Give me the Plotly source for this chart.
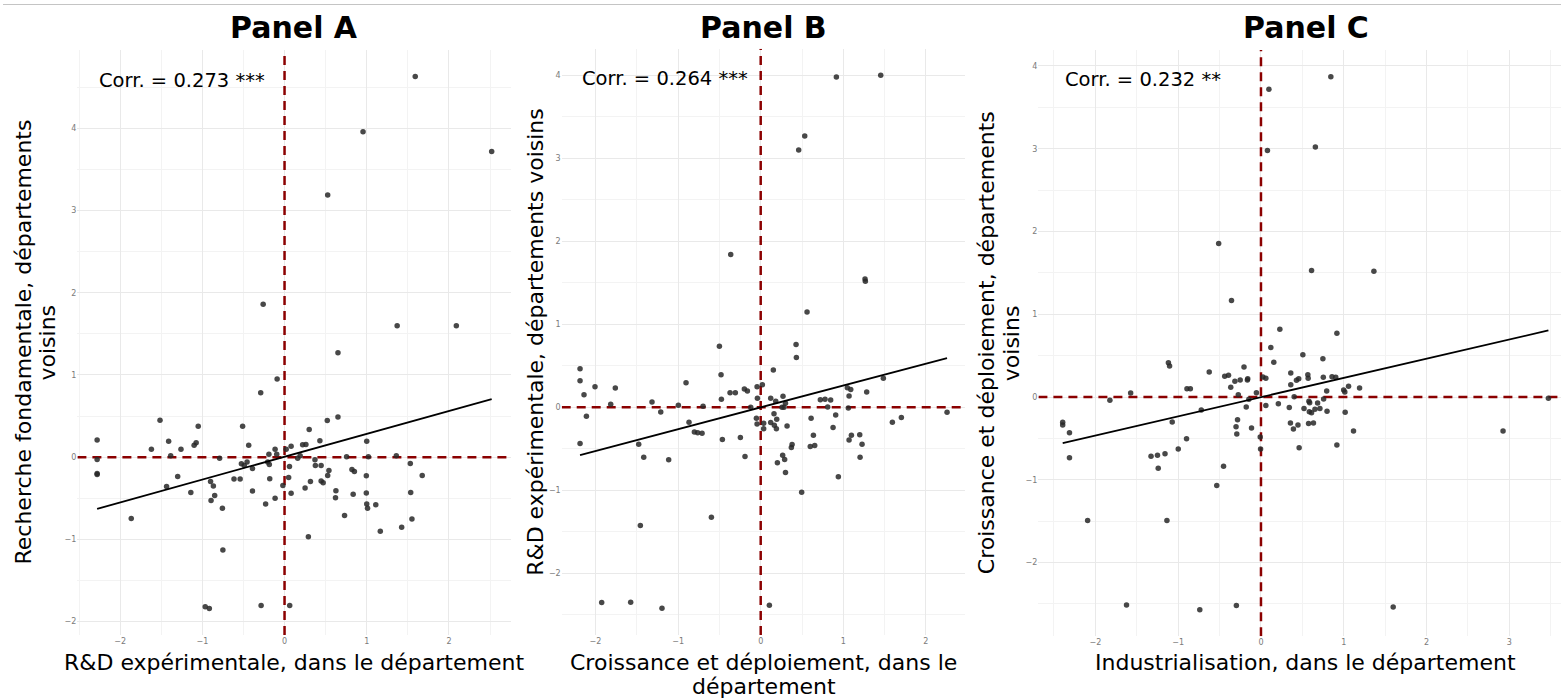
import numpy as np
import plotly.graph_objects as go

W, H = 1561, 699
FONT = "DejaVu Sans"

# ---------------- Data ----------------
# Panel A: R&D expérimentale (x) vs Recherche fondamentale voisins (y)
a_x = [1.59, 0.955, 2.52, 0.525, -0.26, 1.37, 2.09, 0.65, -0.09, -0.29,
       -1.515, 0.65, 0.52, -1.05, -0.51, -2.28, -1.41, -1.075, -1.10, -0.436,
       0.30, 0.43, 1.0, -1.62, -1.26, -0.115, 0.02, 0.08, 0.22, 0.26,
       -0.19, -0.095, -1.385, -2.28, -0.79, 0.16, 0.19, 0.37, 0.755, 1.02,
       1.36, -2.28, -2.28, -1.30, -1.435, -1.14, -0.90, -0.866, -0.85, -0.894,
       -0.756, -0.615, -0.54, -0.525, -0.456, -0.49, -0.39, -0.39, -0.205, -0.185,
       -0.18, -0.23, -0.115, -0.02, 0.06, 0.05, 0.08, 0.25, 0.315, 0.375,
       0.445, 0.54, 0.525, 0.445, 0.47, 0.625, 0.62, 0.73, 0.82, 0.85,
       0.835, 0.995, 0.995, 1.0, 1.01, 1.11, 1.165, 1.425, 1.53, 1.535,
       1.55, 1.675, -1.865, -0.75, -0.965, -0.915, -0.285, 0.063, 0.29]
a_y = [4.63, 3.96, 3.72, 3.19, 1.86, 1.60, 1.60, 1.27, 0.95, 0.785,
       0.45, 0.49, 0.445, 0.375, 0.375, 0.21, 0.195, 0.175, 0.146, 0.146,
       0.336, 0.20, 0.195, 0.097, 0.097, 0.097, 0.097, 0.134, 0.15, 0.154,
       0.036, 0.036, 0.016, -0.028, -0.012, -0.012, 0.016, -0.03, 0.004, 0.004,
       0.016, -0.21, -0.20, -0.235, -0.356, -0.43, -0.295, -0.352, -0.466, -0.526,
       -0.62, -0.267, -0.267, -0.081, -0.06, -0.10, -0.138, -0.413, -0.06, -0.089,
       -0.263, -0.57, -0.50, -0.344, -0.113, -0.247, -0.44, -0.376, -0.295, -0.10,
       -0.10, -0.162, -0.223, -0.29, -0.31, -0.41, -0.494, -0.71, -0.15, -0.174,
       -0.45, -0.227, -0.437, -0.57, -0.623, -0.58, -0.90, -0.854, -0.077, -0.43,
       -0.753, -0.223, -0.745, -1.13, -1.82, -1.84, -1.806, -1.806, -0.968]

# Panel B: Croissance et déploiement (x) vs R&D expérimentale voisins (y)
b_x = [0.916, 1.453, 0.533, 0.46, -0.363, 1.263, 1.267, 0.561,
       -0.50, 0.428, 0.432, -2.187, -2.187, -2.139, -2.006, -1.76, -2.11, -2.187,
       -1.816, -1.316, -1.21, -0.997, -0.904, -0.868, -0.803, -0.763, -0.71, -0.698,
       -0.48, -0.476, -0.464, -0.371, -0.307, -0.246, -0.198, -0.161, -0.19, -0.121,
       -0.044, 0.02, -0.04, -0.052, -0.044, 0.036, 0.036, 0.121, 0.153, 0.121,
       0.161, 0.165, 0.194, 0.19, 0.182, 0.27, 0.258, 0.282, 0.30, 0.319,
       0.202, 0.266, 0.29, 0.30, 0.38, 0.371, 0.496, 0.61, 0.638, 0.60,
       0.654, 0.722, 0.779, 0.811, 0.847, 0.876, 0.908, 0.94, 1.049, 1.09,
       1.07, 1.061, 1.07, 1.098, 1.199, 1.227, 1.203, 1.283, 1.485, 1.594,
       1.703, 2.256, -1.477, -1.416, -1.114, -1.457, -0.597, -1.925, -1.574, -1.195,
       0.105]
b_y = [3.98, 4.0, 3.27, 3.10, 1.84, 1.546, 1.52, 1.15,
       0.737, 0.757, 0.60, 0.465, 0.32, 0.152, 0.248, 0.232, -0.108, -0.437,
       0.036, 0.064, -0.056, 0.024, 0.297, -0.18, -0.297, -0.305, -0.313, 0.012,
       0.393, 0.096, -0.389, 0.176, 0.176, -0.365, 0.22, 0.196, -0.593, 0.0,
       0.248, 0.273, 0.108, -0.132, -0.20, -0.192, -0.257, 0.108, 0.449, -0.184,
       -0.076, -0.216, -0.144, -0.257, 0.072, 0.132, 0.0, 0.0, 0.048, -0.224,
       -0.669, -0.577, -0.63, -0.786, -0.449, -0.485, -1.022, -0.132, -0.337, -0.473,
       -0.461, 0.092, 0.096, 0.004, 0.088, -0.244, -0.092, -0.838, 0.236, 0.216,
       0.136, -0.008, -0.393, -0.337, -0.329, -0.445, -0.601, 0.184, 0.349, -0.18,
       -0.124, -0.06, -0.445, -0.601, -0.633, -1.423, -1.323, -2.353, -2.349, -2.421,
       -2.385]

# Panel C: Industrialisation (x) vs Croissance et déploiement voisins (y)
c_x = [0.844, 0.096, 0.078, 0.657, -0.511, 0.611, 1.364, -0.356, 0.228,
       0.917, 0.119, 0.506, 0.748, 0.155, -1.118, -1.104, -0.205, -0.625, 0.36,
       -0.438, -0.392, -0.315, -0.251, -0.164, -0.16, 0.023, 0.059, 0.566, 0.57,
       0.456, 0.429, 0.753, 0.858, 0.903, 0.36, -0.365, -0.894, -0.853, -0.274,
       -0.055, -0.146, 0.401, 0.794, 0.999, 1.013, 1.058, 1.191, -1.574, -1.825,
       -0.721, -0.178, 0.059, 0.21, 0.342, 0.52, 0.579, 0.588, 0.584, 0.611,
       0.652, 0.712, 0.684, 0.757, 0.798, 1.017, -2.395, -2.395, -2.313, -2.313,
       -1.072, -0.283, -0.301, -0.292, -0.114, -0.009, -0.005, 0.356, 0.392, 0.447,
       0.575, 0.634, 0.461, 0.917, 1.118, 2.924, 3.472, -0.899, -0.999, -1.328,
       -1.25, -1.159, -1.241, -0.452, -0.534, -2.094, -1.136, -1.624, -0.739, -0.297,
       1.597]
c_y = [3.87, 3.72, 2.98, 3.02, 1.855, 1.528, 1.52, 1.165, 0.819,
       0.77, 0.60, 0.512, 0.464, 0.419, 0.415, 0.375, 0.363, 0.302, 0.29,
       0.25, 0.262, 0.19, 0.206, 0.206, 0.222, 0.242, 0.226, 0.27, 0.226,
       0.222, 0.202, 0.238, 0.246, 0.238, 0.149, 0.117, 0.101, 0.101, 0.028,
       0.052, -0.028, 0.004, 0.073, 0.085, 0.06, 0.129, 0.109, 0.048, -0.04,
       -0.157, -0.121, -0.101, -0.081, -0.125, -0.137, -0.052, -0.069, -0.177, -0.19,
       -0.149, -0.137, -0.073, -0.024, -0.173, -0.185, -0.306, -0.339, -0.431, -0.734,
       -0.302, -0.274, -0.359, -0.448, -0.375, -0.484, -0.629, -0.315, -0.387, -0.339,
       -0.319, -0.315, -0.613, -0.581, -0.411, -0.411, -0.016, -0.504, -0.629, -0.714,
       -0.702, -0.685, -0.859, -0.835, -1.069, -1.492, -1.492, -2.512, -2.569, -2.52,
       -2.536]

panel_titles = ["Panel A", "Panel B", "Panel C"]
corr_labels = ["Corr. = 0.273 ***", "Corr. = 0.264 ***", "Corr. = 0.232 **"]
x_titles = [["R&D expérimentale, dans le département"],
            ["Croissance et déploiement, dans le", "département"],
            ["Industrialisation, dans le département"]]
y_titles = [["Recherche fondamentale, départements", "voisins"],
            ["R&D expérimentale, départements voisins"],
            ["Croissance et déploiement, départements", "voisins"]]

# ---------------- Layout geometry (pixels) ----------------
# (left, right, top, bottom) of each panel's plotting area
boxes = [(77.4, 511.4, 50.0, 635.0),
         (561.7, 965.4, 48.7, 634.9),
         (1038.4, 1572.7, 50.1, 636.3)]
ytitle_px = [[23, 47], [536], [986, 1011]]

panels = [(a_x, a_y), (b_x, b_y), (c_x, c_y)]

fig = go.Figure()
shapes = []
annotations = []
layout_axes = {}

POINT_COLOR = "rgba(40,40,40,0.85)"
RED = "#8B0000"
DASH = "9px,6px"

for i, ((xs, ys), box) in enumerate(zip(panels, boxes)):
    xs = np.array(xs, dtype=float)
    ys = np.array(ys, dtype=float)
    left, right, top, bottom = box
    n = "" if i == 0 else str(i + 1)
    xa, ya = "x" + n, "y" + n

    # ggplot-like 5% expansion
    xspan = xs.max() - xs.min()
    yspan = ys.max() - ys.min()
    xlo, xhi = xs.min() - 0.05 * xspan, xs.max() + 0.05 * xspan
    ylo, yhi = ys.min() - 0.05 * yspan, ys.max() + 0.05 * yspan
    r_edge = right
    if right > W:  # panel cropped by the image border
        frac = (W - left) / (right - left)
        xhi = xlo + frac * (xhi - xlo)
        r_edge = W

    axis_common = dict(
        showgrid=True, gridcolor="#e9e9e9", gridwidth=1,
        zeroline=False, showline=False, ticks="",
        tickfont=dict(family=FONT, size=8, color="#7a7a7a"),
        dtick=1, tick0=0,
        minor=dict(dtick=0.5, showgrid=True, gridcolor="#f3f3f3", gridwidth=0.8),
        fixedrange=True,
    )
    layout_axes["xaxis" + n] = dict(axis_common, domain=[left / W, r_edge / W],
                                    range=[xlo, xhi], anchor=ya)
    layout_axes["yaxis" + n] = dict(axis_common, domain=[1 - bottom / H, 1 - top / H],
                                    range=[ylo, yhi], anchor=xa)

    # dashed zero reference lines spanning the panel
    fig.add_trace(go.Scatter(x=[0, 0], y=[ylo, yhi], mode="lines", xaxis=xa, yaxis=ya,
                             line=dict(color=RED, width=2.5, dash=DASH),
                             showlegend=False, hoverinfo="skip"))
    fig.add_trace(go.Scatter(x=[xlo, xhi], y=[0, 0], mode="lines", xaxis=xa, yaxis=ya,
                             line=dict(color=RED, width=2.5, dash=DASH),
                             showlegend=False, hoverinfo="skip"))
    # points
    fig.add_trace(go.Scatter(x=xs, y=ys, mode="markers", xaxis=xa, yaxis=ya,
                             marker=dict(size=5.5, color=POINT_COLOR, line=dict(width=0)),
                             showlegend=False, hoverinfo="skip"))
    # linear fit
    slope, intercept = np.polyfit(xs, ys, 1)
    fx = np.array([xs.min(), xs.max()])
    fig.add_trace(go.Scatter(x=fx, y=intercept + slope * fx, mode="lines",
                             xaxis=xa, yaxis=ya,
                             line=dict(color="black", width=1.8),
                             showlegend=False, hoverinfo="skip"))

    cx = (left + right) / 2
    cy = (top + bottom) / 2
    # panel title
    annotations.append(dict(text="<b>" + panel_titles[i] + "</b>", xref="paper", yref="paper",
                            x=cx / W, y=1 - 27 / H, xanchor="center", yanchor="middle",
                            showarrow=False, font=dict(family=FONT, size=30, color="black")))
    # correlation label
    annotations.append(dict(text=corr_labels[i], xref=xa, yref=ya,
                            x=xs.min(), y=0.99 * ys.max(), xanchor="left", yanchor="middle",
                            showarrow=False, font=dict(family=FONT, size=19.5, color="black")))
    # x axis title lines
    for k, line in enumerate(x_titles[i]):
        annotations.append(dict(text=line, xref="paper", yref="paper",
                                x=cx / W, y=1 - (662 + 24 * k) / H,
                                xanchor="center", yanchor="middle", showarrow=False,
                                font=dict(family=FONT, size=22, color="black")))
    # y axis title lines
    for k, line in enumerate(y_titles[i]):
        annotations.append(dict(text=line, xref="paper", yref="paper",
                                x=ytitle_px[i][k] / W, y=1 - cy / H, textangle=-90,
                                xanchor="center", yanchor="middle", showarrow=False,
                                font=dict(family=FONT, size=22, color="black")))

# thin grey rule at the very top
shapes.append(dict(type="line", xref="paper", yref="paper", x0=3 / W, x1=1,
                   y0=1 - 4.5 / H, y1=1 - 4.5 / H, line=dict(color="#c4c4c4", width=1.2)))

fig.update_layout(
    width=W, height=H, autosize=False,
    margin=dict(l=0, r=0, t=0, b=0),
    paper_bgcolor="white", plot_bgcolor="white",
    font=dict(family=FONT),
    shapes=shapes, annotations=annotations,
    showlegend=False,
    **layout_axes,
)

fig.write_html("out.html", config={"displayModeBar": False},
               post_script="document.body.style.margin='0px';document.body.style.padding='0px';")
